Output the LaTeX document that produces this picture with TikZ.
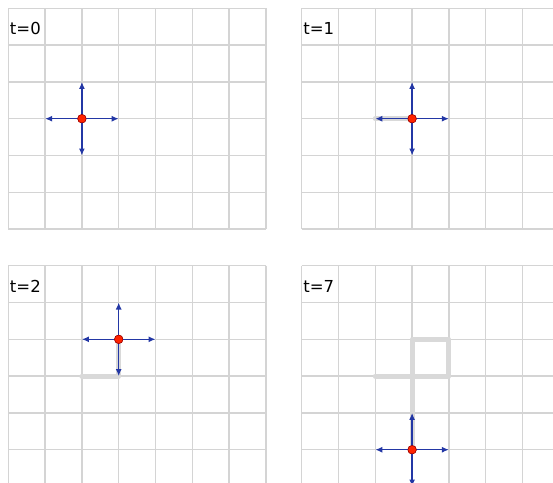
\documentclass[tikz,border=0pt]{standalone}
\usepackage{fontspec}
\setsansfont{DejaVu Sans}
\usetikzlibrary{arrows.meta,calc}
\definecolor{racs}{RGB}{212,212,212}
\definecolor{nyomszin}{RGB}{217,217,217}
\definecolor{lepeskek}{RGB}{35,55,165}
\definecolor{pontpiros}{RGB}{255,35,0}
\tikzset{
  racsvonal/.style={draw=racs,line width=1.5pt},
  nyom/.style={draw=nyomszin,line width=5pt,line join=round,line cap=round},
  lepes/.style={draw=lepeskek,line width=1.3pt,-{Latex[length=7pt,width=6pt]}},
  seta/.style={circle,fill=pontpiros,draw=red!60!black,line width=0.5pt,inner sep=0pt,minimum size=8.5pt},
  idocimke/.style={anchor=base west,inner sep=0pt,font=\sffamily\fontsize{16.5}{19}\selectfont},
}
% 7x6 board of cells
\newcommand{\tabla}{%
  \foreach \oszlop in {0,...,7} \draw[racsvonal] (\oszlop,0) -- (\oszlop,6);
  \foreach \sor in {0,...,6} \draw[racsvonal] (0,\sor) -- (7,\sor);}
% one walker: dot plus the four moves out of it
\newcommand{\setalo}[2]{%
  \node[seta] (#1) at #2 {};
  \coordinate (#1e) at ($(#1)+(1,0)$);
  \coordinate (#1w) at ($(#1)+(-1,0)$);
  \coordinate (#1n) at ($(#1)+(0,-1)$);
  \coordinate (#1s) at ($(#1)+(0,1)$);
  \foreach \irany in {e,w,n,s} \draw[lepes] (#1.center) -- (#1\irany);
  \node[seta] at (#1) {};}

\begin{document}
\begin{tikzpicture}[x=1pt,y=-1pt]
  \useasboundingbox (0,0) rectangle (553,482);
  \clip (0,0) rectangle (553,482);

  % t=0
  \begin{scope}[shift={(8.3,8.3)},x=36.8pt,y=-36.8pt]
    \tabla
    \node[idocimke] (c0) at (0.04,0.725) {t=0};
    \setalo{a}{(2,3)}
  \end{scope}

  % t=1
  \begin{scope}[shift={(301.7,8.3)},x=36.8pt,y=-36.8pt]
    \tabla
    \node[idocimke] (c1) at (0.04,0.725) {t=1};
    \coordinate (b0) at (2,3);
    \coordinate (b1) at (3,3);
    \draw[nyom] (b0) -- (b1);
    \setalo{b}{(b1)}
  \end{scope}

  % t=2
  \begin{scope}[shift={(8.3,265.7)},x=36.8pt,y=-36.8pt]
    \tabla
    \node[idocimke] (c2) at (0.04,0.725) {t=2};
    \coordinate (k0) at (2,3);
    \coordinate (k1) at (3,3);
    \coordinate (k2) at (3,2);
    \draw[nyom] (k0) -- (k1) -- (k2);
    \setalo{k}{(k2)}
  \end{scope}

  % t=7
  \begin{scope}[shift={(301.7,265.7)},x=36.8pt,y=-36.8pt]
    \tabla
    \node[idocimke] (c7) at (0.04,0.725) {t=7};
    \coordinate (h0) at (2,3);
    \coordinate (h1) at (3,3);
    \coordinate (h2) at (3,2);
    \coordinate (h3) at (4,2);
    \coordinate (h4) at (4,3);
    \coordinate (h5) at (3,3);
    \coordinate (h6) at (3,4);
    \coordinate (h7) at (3,5);
    \draw[nyom] (h0) -- (h1) -- (h2) -- (h3) -- (h4) -- (h5) -- (h6) -- (h7);
    \setalo{h}{(h7)}
  \end{scope}
\end{tikzpicture}
\end{document}
